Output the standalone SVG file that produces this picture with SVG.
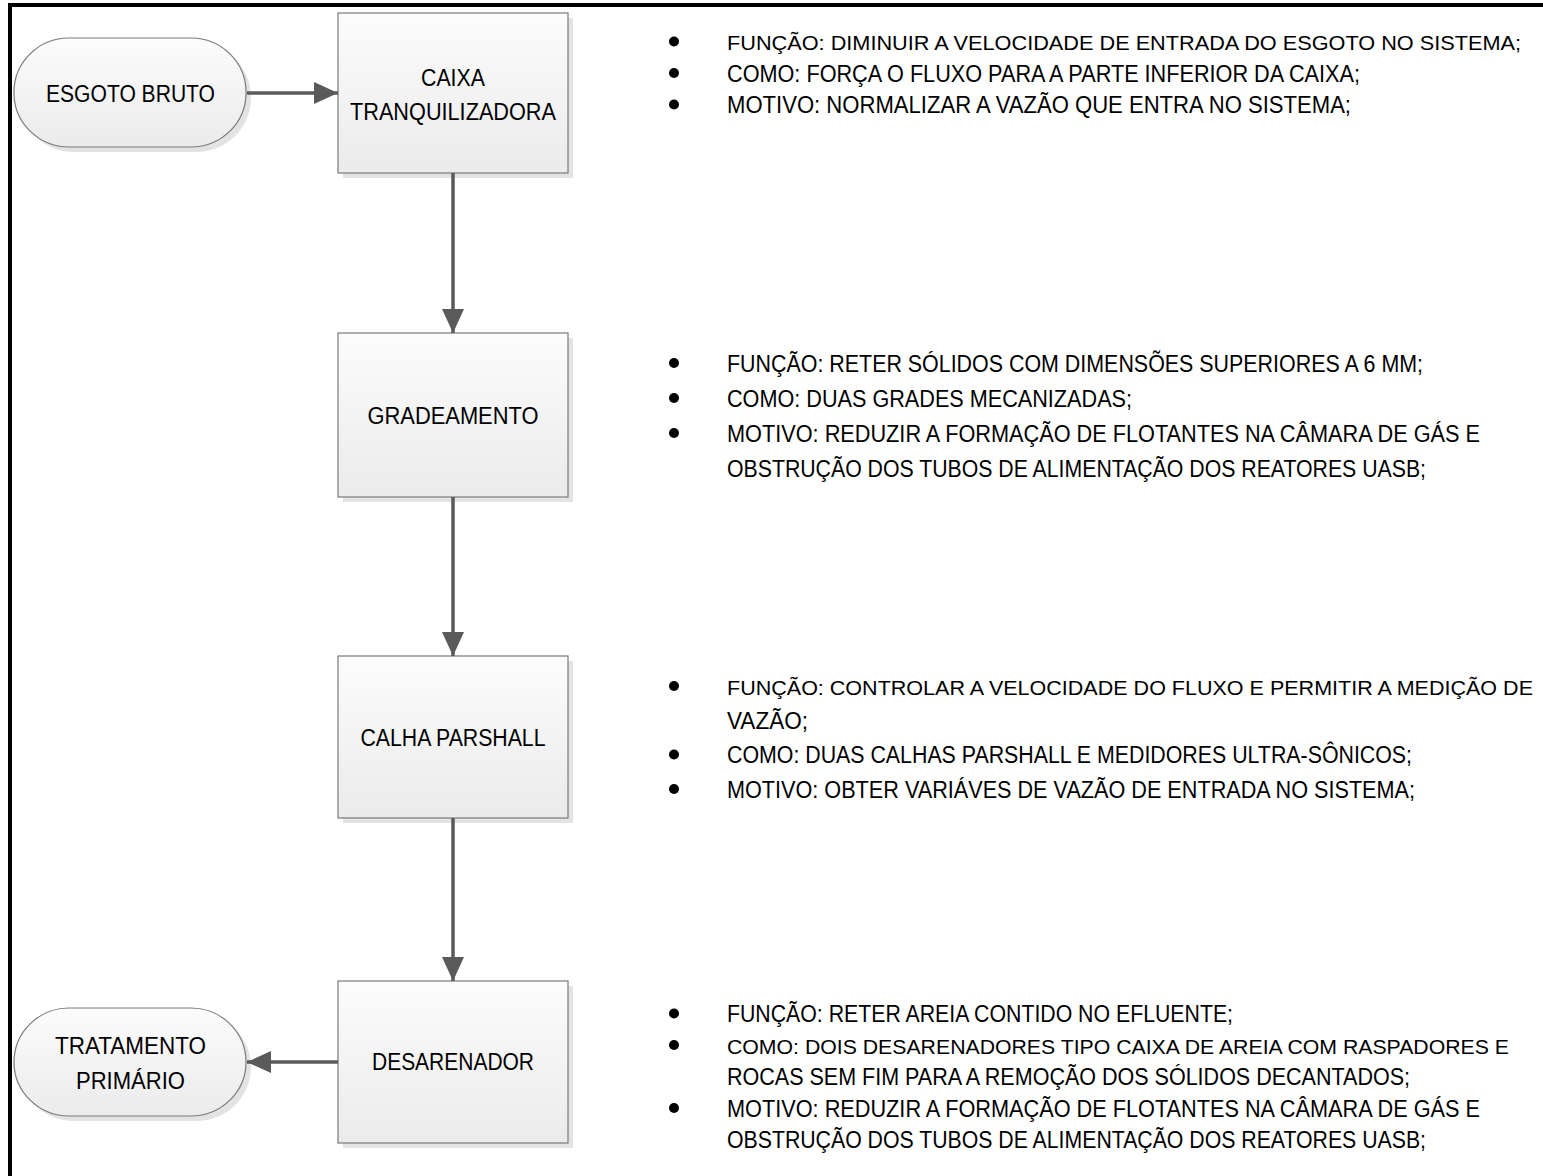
<svg xmlns="http://www.w3.org/2000/svg" width="1543" height="1176" viewBox="0 0 1543 1176">
<defs>
<linearGradient id="fillG" x1="0" y1="0" x2="0" y2="1">
<stop offset="0" stop-color="#fcfcfc"/>
<stop offset="1" stop-color="#ebebeb"/>
</linearGradient>
<marker id="ah" markerUnits="userSpaceOnUse" markerWidth="26" markerHeight="24" refX="24" refY="11" orient="auto">
<path d="M0,0 L24,11 L0,22 Z" fill="#5a5a5a"/>
</marker>
<style>
.shadow{fill:#e3e3e3;stroke:none}
.shape{fill:url(#fillG);stroke:#7a7a7a;stroke-width:1.2}
.lbl{font-family:"Liberation Sans",Arial,sans-serif;font-size:23px;fill:#000;text-anchor:middle}
.txt{font-family:"Liberation Sans",Arial,sans-serif;font-size:23px;fill:#000}
.long{font-size:21px}
.conn{stroke:#5a5a5a;stroke-width:3.5;fill:none;marker-end:url(#ah)}
.dot{fill:#000}
</style>
</defs>
<rect x="0" y="0" width="1543" height="1176" fill="#fff"/>
<rect x="10" y="5" width="1600" height="1300" fill="none" stroke="#000" stroke-width="4"/>

<g id="esgoto-bruto">
<rect class="shadow" x="19" y="43" width="232" height="109" rx="55" ry="54"/>
<rect class="shape" x="14" y="38" width="232" height="109" rx="55" ry="54"/>
<text class="lbl" x="130.5" y="101.5" textLength="169" lengthAdjust="spacingAndGlyphs">ESGOTO BRUTO</text>
</g>

<g id="caixa-tranquilizadora">
<rect class="shadow" x="343" y="18" width="230" height="160"/>
<rect class="shape" x="338" y="13" width="230" height="160"/>
<text class="lbl" x="453" y="85.5" textLength="64" lengthAdjust="spacingAndGlyphs">CAIXA</text>
<text class="lbl" x="453" y="120" textLength="206" lengthAdjust="spacingAndGlyphs">TRANQUILIZADORA</text>
</g>

<g id="gradeamento">
<rect class="shadow" x="343" y="338" width="230" height="164"/>
<rect class="shape" x="338" y="333" width="230" height="164"/>
<text class="lbl" x="453" y="423.5" textLength="171" lengthAdjust="spacingAndGlyphs">GRADEAMENTO</text>
</g>

<g id="calha-parshall">
<rect class="shadow" x="343" y="661" width="230" height="162"/>
<rect class="shape" x="338" y="656" width="230" height="162"/>
<text class="lbl" x="453" y="745.5" textLength="185" lengthAdjust="spacingAndGlyphs">CALHA PARSHALL</text>
</g>

<g id="desarenador">
<rect class="shadow" x="343" y="986" width="230" height="162"/>
<rect class="shape" x="338" y="981" width="230" height="162"/>
<text class="lbl" x="453" y="1070" textLength="162" lengthAdjust="spacingAndGlyphs">DESARENADOR</text>
</g>

<g id="tratamento-primario">
<rect class="shadow" x="19" y="1013" width="232" height="108" rx="55" ry="54"/>
<rect class="shape" x="14" y="1008" width="232" height="108" rx="55" ry="54"/>
<text class="lbl" x="130.5" y="1054" textLength="151" lengthAdjust="spacingAndGlyphs">TRATAMENTO</text>
<text class="lbl" x="130.5" y="1088.5" textLength="109" lengthAdjust="spacingAndGlyphs">PRIMÁRIO</text>
</g>

<g id="connectors">
<line class="conn" x1="247" y1="93" x2="338" y2="93"/>
<line class="conn" x1="453" y1="173" x2="453" y2="333"/>
<line class="conn" x1="453" y1="497" x2="453" y2="656"/>
<line class="conn" x1="453" y1="818" x2="453" y2="981"/>
<line class="conn" x1="338" y1="1062" x2="247" y2="1062"/>
</g>

<g id="notes-caixa">
<circle class="dot" cx="674" cy="41.5" r="5"/>
<circle class="dot" cx="674" cy="73" r="5"/>
<circle class="dot" cx="674" cy="104.5" r="5"/>
<text class="txt long" x="727" y="50" textLength="794" lengthAdjust="spacingAndGlyphs">FUNÇÃO: DIMINUIR A VELOCIDADE DE ENTRADA DO ESGOTO NO SISTEMA;</text>
<text class="txt" x="727" y="81.5" textLength="633" lengthAdjust="spacingAndGlyphs">COMO: FORÇA O FLUXO PARA A PARTE INFERIOR DA CAIXA;</text>
<text class="txt" x="727" y="113" textLength="624" lengthAdjust="spacingAndGlyphs">MOTIVO: NORMALIZAR A VAZÃO QUE ENTRA NO SISTEMA;</text>
</g>

<g id="notes-gradeamento">
<circle class="dot" cx="674" cy="363" r="5"/>
<circle class="dot" cx="674" cy="398" r="5"/>
<circle class="dot" cx="674" cy="433" r="5"/>
<text class="txt" x="727" y="371.5" textLength="696" lengthAdjust="spacingAndGlyphs">FUNÇÃO: RETER SÓLIDOS COM DIMENSÕES SUPERIORES A 6 MM;</text>
<text class="txt" x="727" y="406.5" textLength="405" lengthAdjust="spacingAndGlyphs">COMO: DUAS GRADES MECANIZADAS;</text>
<text class="txt" x="727" y="441.5" textLength="753" lengthAdjust="spacingAndGlyphs">MOTIVO: REDUZIR A FORMAÇÃO DE FLOTANTES NA CÂMARA DE GÁS E</text>
<text class="txt" x="727" y="476.5" textLength="699" lengthAdjust="spacingAndGlyphs">OBSTRUÇÃO DOS TUBOS DE ALIMENTAÇÃO DOS REATORES UASB;</text>
</g>

<g id="notes-calha">
<circle class="dot" cx="674" cy="686" r="5"/>
<circle class="dot" cx="674" cy="754.5" r="5"/>
<circle class="dot" cx="674" cy="789" r="5"/>
<text class="txt long" x="727" y="694.5" textLength="806" lengthAdjust="spacingAndGlyphs">FUNÇÃO: CONTROLAR A VELOCIDADE DO FLUXO E PERMITIR A MEDIÇÃO DE</text>
<text class="txt" x="727" y="728.5" textLength="81" lengthAdjust="spacingAndGlyphs">VAZÃO;</text>
<text class="txt" x="727" y="763" textLength="685" lengthAdjust="spacingAndGlyphs">COMO: DUAS CALHAS PARSHALL E MEDIDORES ULTRA-SÔNICOS;</text>
<text class="txt" x="727" y="797.5" textLength="688" lengthAdjust="spacingAndGlyphs">MOTIVO: OBTER VARIÁVES DE VAZÃO DE ENTRADA NO SISTEMA;</text>
</g>

<g id="notes-desarenador">
<circle class="dot" cx="674" cy="1013.5" r="5"/>
<circle class="dot" cx="674" cy="1045" r="5"/>
<circle class="dot" cx="674" cy="1108" r="5"/>
<text class="txt" x="727" y="1022" textLength="506" lengthAdjust="spacingAndGlyphs">FUNÇÃO: RETER AREIA CONTIDO NO EFLUENTE;</text>
<text class="txt long" x="727" y="1053.5" textLength="782" lengthAdjust="spacingAndGlyphs">COMO: DOIS DESARENADORES TIPO CAIXA DE AREIA COM RASPADORES E</text>
<text class="txt" x="727" y="1085" textLength="683" lengthAdjust="spacingAndGlyphs">ROCAS SEM FIM PARA A REMOÇÃO DOS SÓLIDOS DECANTADOS;</text>
<text class="txt" x="727" y="1116.5" textLength="753" lengthAdjust="spacingAndGlyphs">MOTIVO: REDUZIR A FORMAÇÃO DE FLOTANTES NA CÂMARA DE GÁS E</text>
<text class="txt" x="727" y="1148" textLength="699" lengthAdjust="spacingAndGlyphs">OBSTRUÇÃO DOS TUBOS DE ALIMENTAÇÃO DOS REATORES UASB;</text>
</g>
</svg>
